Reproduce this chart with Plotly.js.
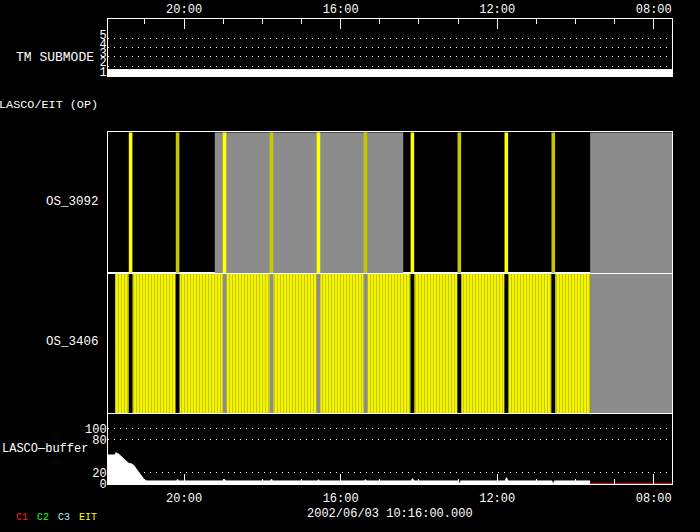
<!DOCTYPE html>
<html>
<head>
<meta charset="utf-8">
<script src="https://cdn.plot.ly/plotly-3.0.1.min.js"></script>
<style>html,body{margin:0;padding:0;background:#000;}#chart{width:700px;height:532px;}</style>
</head>
<body>
<div id="chart"></div>
<script>
// ---------------- data ----------------
const DAY = '2002-06-03';
const xRange = ['21:56:40', '07:32:00'];
const tickFmt = '%H:%M';
const dateLabel = '2002/06/03 10:16:00.000';
const panelLabels = ['TM SUBMODE', 'LASCO/EIT (OP)', 'OS_3092', 'OS_3406', 'LASCO\u2014buffer'];
const legendLabels = ['C1', 'C2', 'C3', 'EIT'];

// TM submode
const tmTime = ['23:30', '06:00'];
const tmMode = [1, 1];
const tmTickVals = [1, 2, 3, 4, 5];
const tmTickText = ['1', '2', '3', '4', '5'];

// periods shown grey (no coverage) in the OS panels
const greyStart = ['19:13', '09:37:30'];
const greyEnd = ['14:24', '06:00'];

// OS_3092 images (times)
const os3092Time = ['21:22', '20:10', '18:58', '17:46', '16:34', '15:22', '14:10', '12:58', '11:46', '10:34'];
const os3092Dur = 5.5; // minutes

// OS_3406 image sequences (start / end)
const os3406Start = ['21:46', '21:19', '20:07', '18:55', '17:43', '16:31', '15:19', '14:07', '12:55', '11:43', '10:31'];
const os3406End   = ['21:25', '20:13', '19:01', '17:49', '16:37', '15:25', '14:13', '13:01', '11:49', '10:37', '09:37:30'];

// LASCO buffer fill level
const bufTime = ['21:57', '21:46', '21:45', '21:41', '21:37', '21:33', '21:29', '21:25', '21:21', '21:17', '21:13', '21:09', '21:05', '21:01', '20:57',
  '20:12', '20:10', '20:08', '19:00', '18:58', '18:56', '17:48', '17:46', '17:44', '16:36', '16:34', '16:32', '15:24', '15:22', '15:20',
  '14:12', '14:10', '14:07', '13:00', '12:58', '12:56', '11:48', '11:46', '11:43', '10:36', '10:34', '10:32', '09:37:30'];
const bufVal = [53, 53, 57, 55, 51, 46, 42, 38, 37, 34, 28, 21, 14, 8, 6,
  6, 9, 6, 6, 9, 6, 6, 9, 6, 6, 8, 6, 6, 8, 6,
  6, 10, 6, 6, 1, 6, 6, 12, 6, 6, 1, 6, 6];
const bufMissingTime = ['09:37:30', '06:00'];
const bufMissingVal = [0, 0];
const bufTickVals = [0, 20, 80, 100];
const bufTickText = ['0', '20', '80', '100'];

// ---------------- helpers ----------------
function ms(t) {
  const p = t.split(':').map(Number);
  return Date.UTC(2002, 5, 3, p[0], p[1], p[2] || 0);
}
function full(t) { return DAY + ' ' + t; }

const WHITE = '#ffffff';
const YEL = '#ffff00';
const DYEL = '#c8c800';
const GREY = '#8c8c8c';
const FONT = 'Liberation Mono, DejaVu Sans Mono, monospace';

const traces = [];

// grey spans in OS panels
['y2', 'y3'].forEach(function (ya, k) {
  traces.push({
    type: 'bar', xaxis: k === 0 ? 'x2' : 'x3', yaxis: ya,
    x: greyStart.map(function (s, i) { return (ms(s) + ms(greyEnd[i])) / 2; }),
    width: greyStart.map(function (s, i) { return Math.abs(ms(s) - ms(greyEnd[i])); }),
    y: greyStart.map(function () { return 1; }),
    marker: { color: GREY, line: { width: 0 } }, hoverinfo: 'skip'
  });
});

// OS_3406 sequences (striped)
traces.push({
  type: 'bar', xaxis: 'x2', yaxis: 'y2',
  x: os3406Start.map(function (s, i) { return (ms(s) + ms(os3406End[i])) / 2; }),
  width: os3406Start.map(function (s, i) { return Math.abs(ms(s) - ms(os3406End[i])); }),
  y: os3406Start.map(function () { return 1; }),
  marker: { color: YEL, line: { width: 0 },
    pattern: { shape: '|', fgcolor: DYEL, bgcolor: YEL, size: 3, solidity: 0.45, fillmode: 'replace' } },
  hoverinfo: 'skip'
});

// OS_3092 images
traces.push({
  type: 'bar', xaxis: 'x3', yaxis: 'y3',
  x: os3092Time.map(ms),
  width: os3092Time.map(function () { return os3092Dur * 60000; }),
  y: os3092Time.map(function () { return 1; }),
  marker: { color: os3092Time.map(function (t, i) { return i % 2 === 0 ? YEL : DYEL; }), line: { width: 0 } },
  hoverinfo: 'skip'
});

// TM submode
traces.push({
  type: 'scatter', mode: 'lines', xaxis: 'x5', yaxis: 'y5',
  x: tmTime.map(full), y: tmMode,
  line: { color: WHITE, width: 13 }, hoverinfo: 'skip'
});

// buffer
traces.push({
  type: 'scatter', mode: 'lines', xaxis: 'x', yaxis: 'y',
  x: bufTime.map(full), y: bufVal, fill: 'tozeroy', fillcolor: WHITE,
  line: { color: WHITE, width: 0.5 }, hoverinfo: 'skip'
});
traces.push({
  type: 'scatter', mode: 'lines', xaxis: 'x', yaxis: 'y',
  x: bufMissingTime.map(full), y: bufMissingVal,
  line: { color: '#e00000', width: 2 }, hoverinfo: 'skip'
});

// ---------------- layout ----------------
const PW = 564, PH = 465, ML = 108, MT = 19;
function px2x(px) { return (px - ML) / PW; }
function py2y(py) { return (MT + PH - py) / PH; }

const tickFont = { family: FONT, size: 12, color: WHITE };
const baseX = {
  type: 'date', range: xRange.map(full), showgrid: false, zeroline: false,
  linecolor: WHITE, linewidth: 1, tickcolor: WHITE
};
function xa(extra) { return Object.assign({}, baseX, extra); }
const baseY = { showline: true, mirror: true, linecolor: WHITE, linewidth: 1, zeroline: false, fixedrange: true };
function ya(extra) { return Object.assign({}, baseY, extra); }

const dot = '1px,5px';
const layout = {
  width: 700, height: 532,
  margin: { l: ML, r: 700 - ML - PW, t: MT, b: 532 - MT - PH, pad: 0 },
  paper_bgcolor: '#000', plot_bgcolor: '#000',
  showlegend: false, barmode: 'overlay',
  font: { family: FONT, color: WHITE, size: 12 },
  xaxis: xa({ anchor: 'y', showline: true, ticks: 'inside', ticklen: 10, dtick: 4 * 3600000, tick0: full('00:00'),
    tickformat: tickFmt, tickfont: tickFont, showticklabels: true, ticklabelstandoff: 3,
    minor: { dtick: 3600000, ticks: 'inside', ticklen: 5, tickcolor: WHITE, showgrid: false } }),
  xaxis2: xa({ anchor: 'y2', matches: 'x', showline: true, mirror: true, ticks: '', showticklabels: false }),
  xaxis3: xa({ anchor: 'y3', matches: 'x', showline: true, mirror: true, ticks: '', showticklabels: false }),
  xaxis4: xa({ anchor: 'y4', matches: 'x', showline: false, ticks: '', showticklabels: false }),
  xaxis5: xa({ anchor: 'y5', matches: 'x', side: 'top', showline: true, ticks: 'inside', ticklen: 10, dtick: 4 * 3600000,
    tick0: full('00:00'), tickformat: tickFmt, tickfont: tickFont, showticklabels: true,
    minor: { dtick: 3600000, ticks: 'inside', ticklen: 5, tickcolor: WHITE, showgrid: false } }),
  yaxis: ya({ domain: [0, py2y(413.3)], range: [0, 128], tickvals: bufTickVals, ticktext: bufTickText, ticks: '',
    tickfont: tickFont, ticklabelstandoff: -2, showgrid: true, gridcolor: WHITE, gridwidth: 1, griddash: dot }),
  yaxis2: ya({ domain: [py2y(413.3), py2y(273.3)], range: [0, 1], showgrid: false, showticklabels: false, ticks: '' }),
  yaxis3: ya({ domain: [py2y(273.3), py2y(132.3)], range: [0, 1], showgrid: false, showticklabels: false, ticks: '' }),
  yaxis4: ya({ domain: [py2y(132.3), py2y(77)], range: [0, 1], showgrid: false, showticklabels: false, ticks: '' }),
  yaxis5: ya({ domain: [py2y(77), 1], range: [0.85, 7.07], tickvals: tmTickVals, ticktext: tmTickText, ticks: '',
    tickfont: tickFont, ticklabelshift: -4, ticklabelstandoff: -2, showgrid: true, gridcolor: WHITE, gridwidth: 1, griddash: dot }),
  annotations: []
};

const labelPos = [[96, 57.7], [100, 105], [101, 202], [101, 342], [90, 449]];
const labelSize = [13, 11.8, 12.5, 12.5, 12];
panelLabels.forEach(function (t, i) {
  layout.annotations.push({ text: t, xref: 'paper', yref: 'paper', x: px2x(labelPos[i][0]), y: py2y(labelPos[i][1]),
    xanchor: 'right', yanchor: 'middle', showarrow: false, font: { family: FONT, size: labelSize[i], color: WHITE } });
});
layout.annotations.push({ text: dateLabel, xref: 'paper', yref: 'paper', x: px2x(390), y: py2y(514),
  xanchor: 'center', yanchor: 'middle', showarrow: false, font: { family: FONT, size: 12, color: WHITE } });
const legColors = ['#ff2020', '#20ff20', '#b0f0ff', '#ffff00'];
const legX = [14, 35, 56, 77];
legendLabels.forEach(function (t, i) {
  layout.annotations.push({ text: t, xref: 'paper', yref: 'paper', x: px2x(legX[i]), y: py2y(517),
    xanchor: 'left', yanchor: 'middle', showarrow: false, font: { family: FONT, size: 10, color: legColors[i] } });
});

Plotly.newPlot('chart', traces, layout, { staticPlot: true, displayModeBar: false });
</script>
</body>
</html>
